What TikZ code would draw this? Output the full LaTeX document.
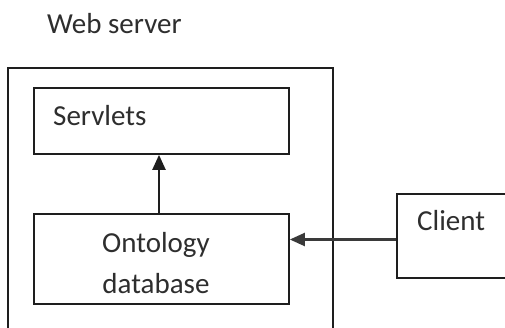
\documentclass[tikz,border=0pt]{standalone}
\usepackage{fontspec}
\setmainfont{Carlito}
\usetikzlibrary{arrows.meta}
\definecolor{ink}{HTML}{1E1E1E}
\definecolor{txt}{HTML}{2E2E2E}
\definecolor{wire}{HTML}{3A3A3A}
\tikzset{
  box/.style={draw=ink, line width=1.7pt, rectangle, inner sep=0pt},
  lbl/.style={text=txt, font=\fontsize{29}{41}\selectfont, inner sep=0pt},
  arr/.style={line width=2.2pt, -{Triangle[length=15pt,width=13pt]}},
}
\begin{document}
\begin{tikzpicture}[x=1pt, y=-1pt]
  \useasboundingbox (0,0) rectangle (505,327);
  \fill[white] (0,0) rectangle (505,327);
  \clip (0,0) rectangle (505,327);

  % title above the server container
  \node[lbl, anchor=base west] (title) at (47,33) {Web server};

  % web server container (its lower edge runs past the page)
  \node[box, minimum width=325pt, minimum height=280pt] (server) at (170.5,208) {};

  % inner components
  \node[box, minimum width=255pt, minimum height=66pt] (servlets) at (161.5,121) {};
  \node[lbl, anchor=base west] (servletstext) at (53,125) {Servlets};

  \node[box, minimum width=255pt, minimum height=90pt] (onto) at (161.5,259) {};
  \node[lbl, anchor=base, align=center] (ontotext) at (156,293) {Ontology\\database};

  % client (its right edge runs past the page)
  \node[box, minimum width=123pt, minimum height=84pt] (client) at (458.5,236) {};
  \node[lbl, anchor=base west] (clienttext) at (417,230) {Client};

  % connectors
  \draw[arr, draw=ink] ([xshift=-2.5pt]onto.north) -- ([xshift=-2.5pt]servlets.south);
  \coordinate (cout) at (client.west |- 0,239.5);
  \draw[arr, draw=wire, fill=ink] (cout) -- (cout -| onto.east);
\end{tikzpicture}
\end{document}
